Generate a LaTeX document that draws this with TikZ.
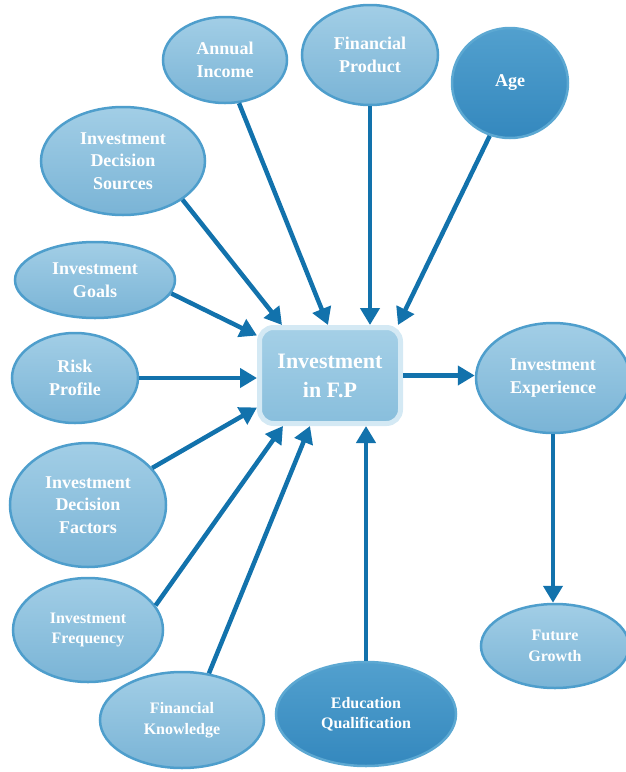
\documentclass[tikz,border=0pt]{standalone}
\usepackage{fontspec}
\setmainfont{Liberation Serif}
\usetikzlibrary{arrows.meta,shapes.geometric}
\definecolor{linkblue}{RGB}{18,114,172}
\definecolor{ovaltop}{RGB}{162,206,230}
\definecolor{ovalbot}{RGB}{122,180,214}
\definecolor{ovalline}{RGB}{78,158,204}
\definecolor{darktop}{RGB}{82,160,206}
\definecolor{darkbot}{RGB}{52,136,190}
\definecolor{darkline}{RGB}{92,168,210}
\definecolor{boxtop}{RGB}{165,208,231}
\definecolor{boxbot}{RGB}{136,190,220}
\definecolor{boxline}{RGB}{212,233,244}
\tikzset{>={Triangle[width=19pt,length=17pt]}}
\tikzset{
  oval/.style={ellipse, draw=ovalline, line width=2.5pt, top color=ovaltop,
    bottom color=ovalbot, text=white, align=center, inner sep=0pt,
    font=\bfseries\fontsize{18}{22.5}\selectfont},
  darkoval/.style={oval, draw=darkline, top color=darktop, bottom color=darkbot},
  smalltext/.style={font=\bfseries\fontsize{16}{20.5}\selectfont},
  hub/.style={rectangle, rounded corners=14pt, draw=boxline, line width=5pt,
    top color=boxtop, bottom color=boxbot, text=white, align=center,
    minimum width=141pt, minimum height=96pt,
    font=\bfseries\fontsize{22}{29}\selectfont},
  link/.style={->, draw=linkblue, line width=4.5pt}
}

\begin{document}
\begin{tikzpicture}[x=1pt,y=-1pt]
  \useasboundingbox (0,0) rectangle (625,772);

  \node[hub] (fp) at (330,375.5) {Investment\\in F.P};

  %% top row
  \node[oval, minimum width=124pt, minimum height=86pt] (income) at (225,60) {Annual\\Income};
  \node[oval, minimum width=136pt, minimum height=100pt] (product) at (370,55) {Financial\\Product};
  \node[darkoval, minimum width=116pt, minimum height=110pt] (age) at (510,83) {Age};

  %% left column
  \node[oval, minimum width=164pt, minimum height=108pt] (sources) at (123,161) {Investment\\Decision\\Sources};
  \node[oval, minimum width=160pt, minimum height=76pt] (goals) at (95,280) {Investment\\Goals};
  \node[oval, minimum width=126pt, minimum height=90pt] (risk) at (75,378) {Risk\\Profile};
  \node[oval, minimum width=156pt, minimum height=124pt] (factors) at (88,505) {Investment\\Decision\\Factors};
  \node[oval, smalltext, minimum width=150pt, minimum height=104pt] (freq) at (88,630) {Investment\\Frequency};

  %% bottom row
  \node[oval, smalltext, minimum width=164pt, minimum height=96pt] (knowledge) at (182,720) {Financial\\Knowledge};
  \node[darkoval, smalltext, minimum width=180pt, minimum height=104pt] (education) at (366,714) {Education\\Qualification};

  %% right side
  \node[oval, minimum width=154pt, minimum height=110pt] (experience) at (553,378) {Investment\\Experience};
  \node[oval, smalltext, minimum width=148pt, minimum height=84pt] (growth) at (555,646) {Future\\Growth};

  %% inputs into the hub
  \draw[link] (income.-72) -- ([xshift=-2pt]fp.north);
  \draw[link] (product.south) -- (product.south |- fp.north);
  \draw[link] (age.-111) -- ([xshift=-5pt]fp.north east);
  \draw[link] (sources.-33) -- ([xshift=-48pt]fp.north);
  \draw[link] (goals.-10) -- ([yshift=40pt]fp.west);
  \draw[link] (risk.east) -- (risk.east -| fp.west);
  \draw[link] (factors) -- ([yshift=-32pt]fp.west);
  \draw[link] (freq.20) -- ([xshift=-47pt]fp.south);
  \draw[link] (knowledge.60) -- ([xshift=-20pt]fp.south);
  \draw[link] (education.north) -- (education.north |- fp.south);

  %% outputs
  \draw[link] (fp.east) -- (fp.east -| experience.west);
  \draw[link] (experience.south) -- (experience.south |- growth.north);
\end{tikzpicture}
\end{document}
